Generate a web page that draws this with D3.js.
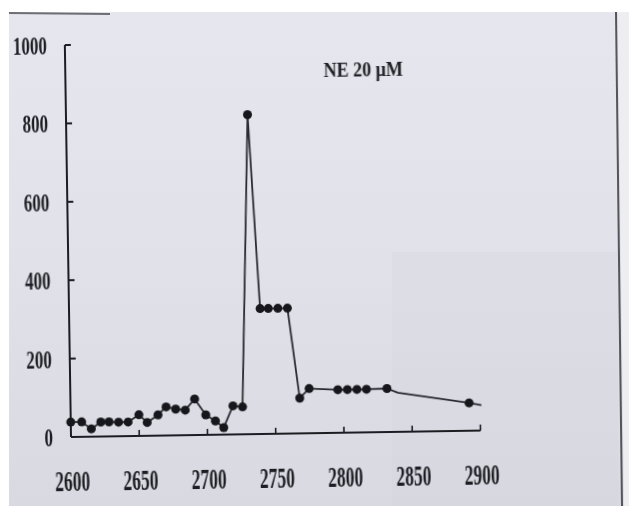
<!DOCTYPE html>
<html>
<head>
<meta charset="utf-8">
<script src="https://cdn.jsdelivr.net/npm/d3@7"></script>
<style>
  html, body { margin: 0; padding: 0; background: #ffffff; }
  svg { display: block; }
</style>
</head>
<body>
<div id="viz"></div>
<script>
// chart values
var wavenumbers = [2600, 2608, 2615, 2622, 2628, 2635, 2642, 2650, 2656, 2664,
                   2670, 2677, 2684, 2691, 2699, 2706, 2712, 2719, 2726, 2733,
                   2740, 2746, 2753, 2760, 2768, 2775, 2796, 2803, 2810, 2817,
                   2832, 2840, 2892, 2901];
var intensities = [38, 38, 20, 37, 37, 36, 36, 54, 34, 53,
                   73, 67, 64, 92, 51, 35, 18, 73, 70, 815,
                   320, 320, 320, 320, 90, 114, 110, 110, 110, 110,
                   111, 100, 71, 65];
// the line has a couple of bends with no dot on them
var hasMarker = [1, 1, 1, 1, 1, 1, 1, 1, 1, 1,
                 1, 1, 1, 1, 1, 1, 1, 1, 1, 1,
                 1, 1, 1, 1, 1, 1, 1, 1, 1, 1,
                 1, 0, 1, 0];
var xTicks = [2600, 2650, 2700, 2750, 2800, 2850, 2900];
var yTicks = [0, 200, 400, 600, 800, 1000];
var title = 'NE 20 \u03bcM';

var width = 629, height = 506;
var ink = '#1c1c22';

var svg = d3.select('#viz')
  .append('svg')
  .attr('width', width)
  .attr('height', height);

///////////////////////////////////////////////////////////////////////////////
// PAPER  (it is a photo of a printout, so grey-lavender page with white edges)
var defs = svg.append('defs');
var grad = defs.append('linearGradient')
  .attr('id', 'paper')
  .attr('x1', 0).attr('y1', 0).attr('x2', 0).attr('y2', 1);
grad.append('stop').attr('offset', '0%').attr('stop-color', '#e6e6ee');
grad.append('stop').attr('offset', '45%').attr('stop-color', '#e2e2ea');
grad.append('stop').attr('offset', '100%').attr('stop-color', '#d9d9e1');

defs.append('filter')
  .attr('id', 'soft')
  .append('feGaussianBlur')
  .attr('stdDeviation', 0.5);

svg.append('rect')
  .attr('x', 9).attr('y', 12)
  .attr('width', width - 9).attr('height', height - 12)
  .style('fill', 'url(#paper)');

// slightly darker patch lower right
svg.append('rect')
  .attr('x', 392).attr('y', 252)
  .attr('width', 226).attr('height', 254)
  .style('fill', '#d4d4dd')
  .style('opacity', 0.25);

// page edge on the right
svg.append('line')
  .attr('x1', 616).attr('y1', 12)
  .attr('x2', 622).attr('y2', height)
  .style('stroke', '#55555c')
  .style('stroke-width', 2);
svg.append('polygon')
  .attr('points', '618,12 629,12 629,506 624,506')
  .style('fill', '#eeeef2');

// dark scrap on the top left edge
svg.append('line')
  .attr('x1', 9).attr('y1', 13)
  .attr('x2', 110).attr('y2', 14)
  .style('stroke', '#3a3a40')
  .style('stroke-width', 2)
  .style('opacity', 0.7);

///////////////////////////////////////////////////////////////////////////////
// CHART  (the photo is tilted a little, so the whole plot is rotated)
var x = d3.scaleLinear().domain([2600, 2900]).range([71, 480.5]);
var y = d3.scaleLinear().domain([0, 1000]).range([437, 45]);

var chart = svg.append('g')
  .attr('transform', 'rotate(-0.9,' + x(2600) + ',' + y(0) + ')')
  .attr('filter', 'url(#soft)');

// condensed heavy serif text, like the narrow digits of the printout
function squeezedText(sel, tx, ty, str, size, sx, anchor) {
  return sel.append('text')
    .attr('transform', 'translate(' + tx + ',' + ty + ') scale(' + sx + ',1)')
    .attr('text-anchor', anchor)
    .style('font-family', '"Liberation Serif", "DejaVu Serif", serif')
    .style('font-weight', 'bold')
    .style('font-size', size + 'px')
    .style('fill', ink)
    .text(str);
}

// y axis with ticks pointing inward
chart.append('line')
  .attr('x1', x(2600)).attr('y1', y(1000))
  .attr('x2', x(2600)).attr('y2', y(0))
  .style('stroke', ink)
  .style('stroke-width', 2);
yTicks.forEach(function(t) {
  if (t > 0) {
    chart.append('line')
      .attr('x1', x(2600)).attr('y1', y(t))
      .attr('x2', x(2600) + 6).attr('y2', y(t))
      .style('stroke', ink)
      .style('stroke-width', 2);
  }
  squeezedText(chart, 53, y(t) + 9, String(t), 25, 0.68, 'end');
});

// x axis, ticks pointing up
chart.append('line')
  .attr('x1', x(2600)).attr('y1', y(0))
  .attr('x2', x(2900)).attr('y2', y(0))
  .style('stroke', ink)
  .style('stroke-width', 2.2);
xTicks.forEach(function(t) {
  if (t > 2600) {
    chart.append('line')
      .attr('x1', x(t)).attr('y1', y(0))
      .attr('x2', x(t)).attr('y2', y(0) - 6)
      .style('stroke', ink)
      .style('stroke-width', 1.6);
  }
  squeezedText(chart, x(t) + 1, 491, String(t), 29, 0.6, 'middle');
});

// the trace
var points = wavenumbers.map(function(w, i) {
  return {w: w, v: intensities[i], dot: hasMarker[i]};
});

var line = d3.line()
  .x(function(d) { return x(d.w); })
  .y(function(d) { return y(d.v); });

chart.append('path')
  .datum(points)
  .attr('d', line)
  .style('fill', 'none')
  .style('stroke', '#2a2a30')
  .style('stroke-width', 1.8)
  .style('stroke-linejoin', 'round');

chart.selectAll('circle.dot')
  .data(points.filter(function(d) { return d.dot; }))
  .enter()
  .append('circle')
  .attr('class', 'dot')
  .attr('cx', function(d) { return x(d.w); })
  .attr('cy', function(d) { return y(d.v); })
  .attr('r', 4.5)
  .style('fill', '#18181c');

// label in the top right of the plot
squeezedText(chart, 369, 81, title, 22, 0.82, 'middle');
</script>
</body>
</html>
